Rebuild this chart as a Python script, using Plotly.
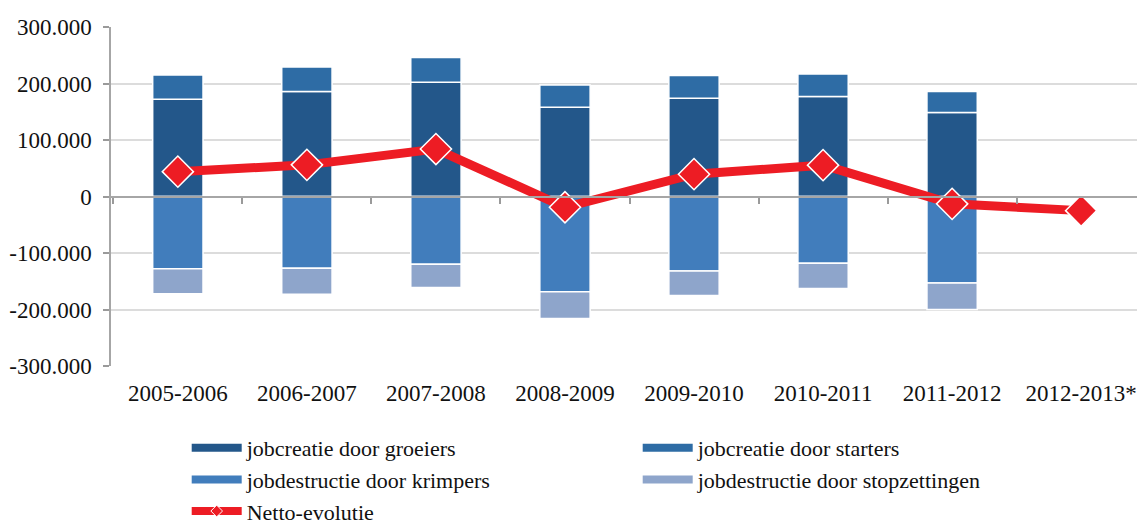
import plotly.graph_objects as go

jaren = ["2005-2006", "2006-2007", "2007-2008", "2008-2009",
         "2009-2010", "2010-2011", "2011-2012", "2012-2013*"]
groeiers = [172000, 186000, 202000, 158000, 174000, 177000, 148500, None]
starters = [43000, 43000, 44000, 39500, 40000, 40000, 37500, None]
krimpers = [-128000, -127000, -120000, -168500, -132000, -118000, -153000, None]
stopzettingen = [-44000, -46000, -41000, -47500, -43000, -45000, -47000, None]
netto = [44000, 56000, 84000, -19000, 39500, 55500, -13000, -25000]

y_ticks = [-300000, -200000, -100000, 0, 100000, 200000, 300000]
y_labels = ["-300.000", "-200.000", "-100.000", "0", "100.000", "200.000", "300.000"]

reeksen = [
    ("jobcreatie door groeiers", groeiers, "#23578a"),
    ("jobcreatie door starters", starters, "#2e6ca5"),
    ("jobdestructie door krimpers", krimpers, "#417dbc"),
    ("jobdestructie door stopzettingen", stopzettingen, "#8ea5cb"),
]

FONT = "'Liberation Serif', 'Times New Roman', serif"
RED = "#ed1c24"

fig = go.Figure()

for naam, waarden, kleur in reeksen:
    fig.add_trace(go.Bar(x=jaren, y=waarden, name=naam, marker_color=kleur,
                         marker_line=dict(color="white", width=1.5),
                         legendgroup=naam, showlegend=False))
    # legend entry as a wide flat swatch, like the original
    fig.add_trace(go.Scatter(x=[None], y=[None], mode="lines", name=naam,
                             line=dict(color=kleur, width=8), legendgroup=naam))

fig.add_trace(go.Scatter(x=jaren, y=netto, name="Netto-evolutie", xaxis="x2",
                         mode="lines+markers", legendgroup="netto",
                         showlegend=False,
                         line=dict(color=RED, width=9),
                         marker=dict(symbol="diamond", size=24, color=RED,
                                     line=dict(color="white", width=1.5))))
fig.add_trace(go.Scatter(x=[None], y=[None], name="Netto-evolutie",
                         mode="lines+markers", legendgroup="netto",
                         line=dict(color=RED, width=8),
                         marker=dict(symbol="diamond", size=9, color=RED,
                                     line=dict(color="white", width=1))))

# the page body has an 8px margin, so the margins are 8px smaller / larger
fig.update_layout(
    width=1145, height=521,
    margin=dict(l=103, r=5, t=19, b=163, autoexpand=False),
    paper_bgcolor="white", plot_bgcolor="white",
    font=dict(family=FONT, size=22, color="#111111"),
    barmode="relative", bargap=0.61,
    xaxis=dict(categoryorder="array", categoryarray=jaren, showline=False,
               showgrid=False, ticks="", tickfont=dict(family=FONT, size=23),
               ticklabelstandoff=11),
    xaxis2=dict(overlaying="x", matches="x", anchor="free", position=0.5,
                showgrid=False, showticklabels=False, ticks="outside",
                tickson="boundaries", ticklen=6, tickwidth=1.5,
                tickcolor="#9a9a9a", showline=True, linecolor="#a6a6a6",
                linewidth=2),
    yaxis=dict(range=[-300000, 300000], tickvals=y_ticks, ticktext=y_labels,
               showline=True, linecolor="#a6a6a6", linewidth=1.5,
               ticks="outside", ticklen=6, tickcolor="#9a9a9a", tickwidth=1.5,
               showgrid=True, gridcolor="#dcdcdc", gridwidth=1.5,
               zeroline=False, tickfont=dict(family=FONT, size=23),
               ticklabelstandoff=7),
    legend=dict(orientation="h", x=0.073, xanchor="left", y=-0.18,
                yanchor="top", entrywidth=386, entrywidthmode="pixels",
                font=dict(family=FONT, size=22), itemwidth=50, tracegroupgap=0),
    hovermode="x",
)

fig.write_html("out.html")
